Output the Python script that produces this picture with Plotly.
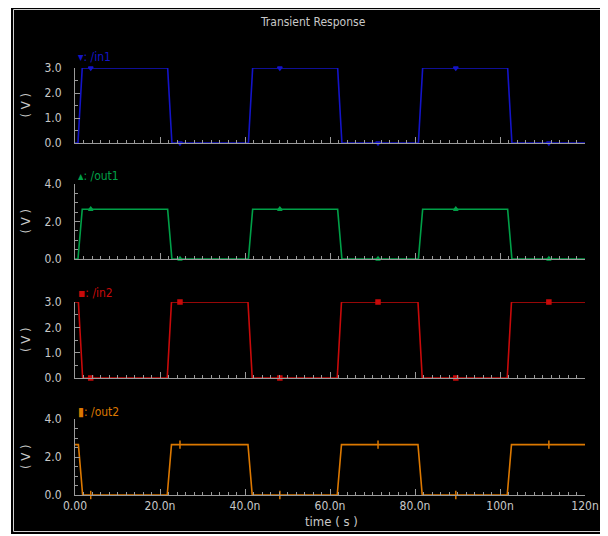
import numpy as np
import plotly.graph_objects as go

W, H = 608, 536

# ---- data ----
t_a = [0, 0.7, 1.7, 21.8, 22.8, 40.8, 41.8, 61.8, 62.8, 80.8, 81.8, 101.8, 102.8, 120]
in1_v = [0, 0, 3.0, 3.0, 0, 0, 3.0, 3.0, 0, 0, 3.0, 3.0, 0, 0]
out1_v = [0, 0, 2.65, 2.65, 0, 0, 2.65, 2.65, 0, 0, 2.65, 2.65, 0, 0]

t_b = [0, 0.8, 1.8, 21.7, 22.7, 40.7, 41.7, 61.7, 62.7, 80.7, 81.7, 101.7, 102.7, 120]
in2_v = [3.0, 3.0, 0, 0, 3.0, 3.0, 0, 0, 3.0, 3.0, 0, 0, 3.0, 3.0]
out2_v = [2.65, 2.65, 0, 0, 2.65, 2.65, 0, 0, 2.65, 2.65, 0, 0, 2.65, 2.65]

marker_t = [3.7, 24.7, 48.2, 71.3, 89.6, 111.5]

x_ticks = [0, 20, 40, 60, 80, 100, 120]
x_ticklabels = ["0.00", "20.0n", "40.0n", "60.0n", "80.0n", "100n", "120n"]
y_ticks_3 = [0, 1, 2, 3]
y_ticklabels_3 = ["0.0", "1.0", "2.0", "3.0"]
y_ticks_4 = [0, 2, 4]
y_ticklabels_4 = ["0.0", "2.0", "4.0"]

names = ["/in1", "/out1", "/in2", "/out2"]
glyphs = ["▾", "▴", "▪", "▮"]

# ---- styling ----
colors = ["#1414c8", "#00a048", "#c80a0a", "#dc7800"]
symbols = ["triangle-down", "triangle-up", "square", "line-ns"]
msizes = [4, 4, 4, 6]
gray = "#c8c8c8"
axgray = "#9a9a9a"
FONT = "Liberation Sans Narrow, DejaVu Sans Condensed, sans-serif"

OFF = 8  # page offset of the figure inside the browser window

def px(x):
    return (x - OFF) / W

def py(y):
    return 1 - (y - OFF) / H

# panel pixel geometry: (y of 0 level, y of top level)
panels = [(143, 68, 3), (259, 184, 4), (378, 302, 3), (495, 419, 4)]
series = [(t_a, in1_v), (t_a, out1_v), (t_b, in2_v), (t_b, out2_v)]
label_y = [57, 176, 293, 412]

fig = go.Figure()
layout = dict(
    width=W, height=H,
    margin=dict(l=0, r=0, t=0, b=0, autoexpand=False),
    paper_bgcolor="white",
    plot_bgcolor="rgba(0,0,0,0)",
    showlegend=False,
    font=dict(family=FONT, color=gray, size=12),
)

shapes = [
    dict(type="rect", xref="paper", yref="paper", x0=px(11), x1=px(605), y0=py(534), y1=1,
         fillcolor="black", line=dict(width=0), layer="below"),
    dict(type="rect", xref="paper", yref="paper", x0=px(13.5), x1=px(602.5), y0=py(531.5), y1=py(9.5),
         fillcolor="rgba(0,0,0,0)", line=dict(width=1, color="#d0d0d0"), layer="below"),
]
annotations = [
    dict(text="Transient Response", x=px(313), y=py(22), xref="paper", yref="paper",
         xanchor="center", yanchor="middle",
         showarrow=False, font=dict(size=12, color=gray, family=FONT)),
    dict(text="time ( s )", x=px(331), y=py(521), xref="paper", yref="paper",
         xanchor="center", yanchor="middle",
         showarrow=False, font=dict(size=13, color=gray, family=FONT)),
]

for i, ((ybot, ytop, ymax), (tt, vv)) in enumerate(zip(panels, series)):
    k = "" if i == 0 else str(i + 1)
    xa, ya = "x" + k, "y" + k
    fig.add_trace(go.Scatter(x=tt, y=vv, mode="lines", xaxis=xa, yaxis=ya,
                             line=dict(color=colors[i], width=1.6), cliponaxis=False,
                             hoverinfo="skip"))
    mv = np.interp(marker_t, tt, vv)
    fig.add_trace(go.Scatter(x=marker_t, y=mv, mode="markers", xaxis=xa, yaxis=ya,
                             marker=dict(symbol=symbols[i], size=msizes[i], color=colors[i],
                                         line=dict(color=colors[i], width=1.5)),
                             cliponaxis=False, hoverinfo="skip"))
    last = (i == 3)
    layout["xaxis" + k] = dict(
        domain=[px(75), px(585)], range=[0, 120], anchor=ya,
        showline=True, linecolor=axgray, linewidth=1,
        showgrid=False, zeroline=False,
        ticks="inside", ticklen=6, tickcolor=axgray, tickwidth=1,
        tickvals=x_ticks, ticktext=x_ticklabels, showticklabels=last,
        tickfont=dict(size=12, color=gray, family=FONT),
        minor=dict(ticks="inside", ticklen=3, tickcolor=axgray, dtick=2, tick0=0, showgrid=False),
    )
    if ymax == 3:
        tv, tx = y_ticks_3, y_ticklabels_3
    else:
        tv, tx = y_ticks_4, y_ticklabels_4
    layout["yaxis" + k] = dict(
        domain=[py(ybot), py(ytop)], range=[0, ymax], anchor=xa,
        showline=True, linecolor=axgray, linewidth=1,
        showgrid=False, zeroline=False,
        ticks="inside", ticklen=5, tickcolor=axgray,
        tickvals=tv, ticktext=tx, ticklabelstandoff=10,
        tickfont=dict(size=12, color=gray, family=FONT),
        minor=dict(ticks="inside", ticklen=3, tickcolor=axgray, dtick=0.5, tick0=0, showgrid=False),
    )
    annotations.append(dict(text="( V )", textangle=-90, x=px(25), y=py((ybot + ytop) / 2),
                            xref="paper", yref="paper", showarrow=False,
                            xanchor="center", yanchor="middle",
                            font=dict(size=13, color=gray, family=FONT)))
    annotations.append(dict(text=glyphs[i] + ": " + names[i], x=px(76), y=py(label_y[i]),
                            xref="paper", yref="paper", showarrow=False,
                            xanchor="left", yanchor="middle",
                            font=dict(size=12, color=colors[i], family=FONT)))

layout["shapes"] = shapes
layout["annotations"] = annotations
fig.update_layout(**layout)
fig.write_html("out.html")
